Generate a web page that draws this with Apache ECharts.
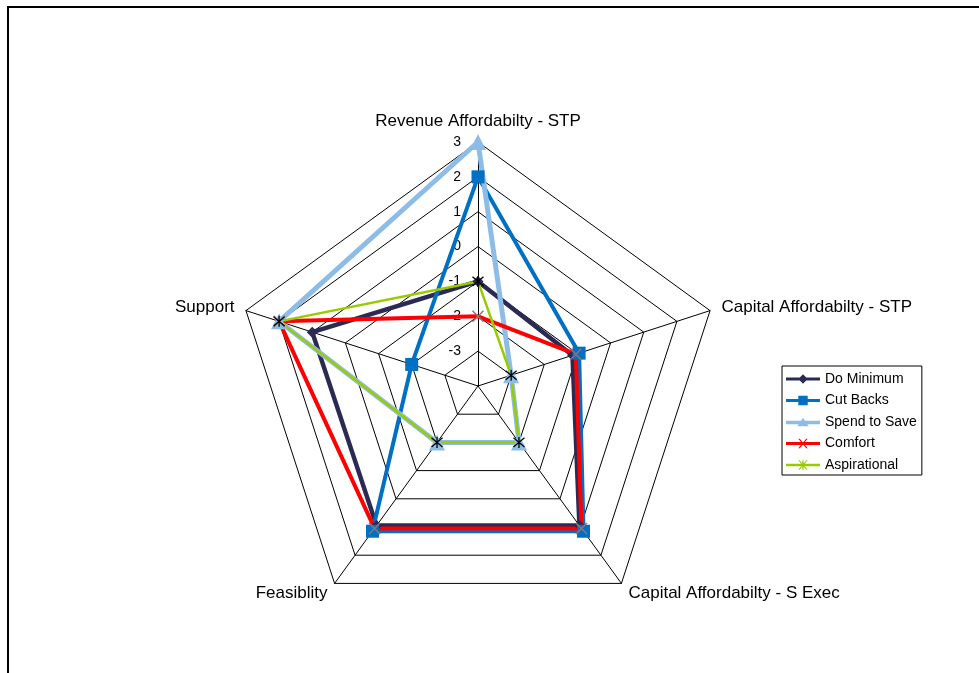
<!DOCTYPE html>
<html>
<head>
<meta charset="utf-8">
<script src="https://cdn.jsdelivr.net/npm/echarts@6/dist/echarts.min.js"></script>
<style>
  html, body { margin: 0; padding: 0; background: #fff; overflow: hidden; }
  #frame { position: absolute; left: 7px; top: 6px; width: 1000px; height: 700px; border: 2px solid #000; }
  #container { position: absolute; left: 0; top: 0; width: 979px; height: 673px; }
</style>
</head>
<body>
<div id="frame"></div>
<div id="container"></div>
<script type="text/javascript">
// axes in echarts order (top, then counter-clockwise)
var axisNames = ['Revenue Affordabilty - STP', 'Support', 'Feasiblity', 'Capital Affordabilty - S Exec', 'Capital Affordabilty - STP'];
var seriesNames = ['Do Minimum', 'Cut Backs', 'Spend to Save', 'Comfort', 'Aspirational'];
var doMinimum   = [-1, 1, 0.95, 0.95, -1.15];
var cutBacks    = [2, -2, 1.15, 1.15, -0.95];
var spendToSave = [3, 2, -2, -2, -3];
var comfort     = [-2, 2, 1.05, 1.05, -1.05];
var aspirational = [-1, 2, -2, -2, -3];
var axisMin = -4, axisMax = 3;

var values = [doMinimum, cutBacks, spendToSave, comfort, aspirational];
var colors = ['#2b2a55', '#0070c4', '#8dbde6', '#ff0000', '#99cc00'];
var widths = [4.5, 4, 5, 4, 2.5];
var symbols = ['diamond', 'rect', 'triangle', 'path://M0,0L10,10M10,0L0,10', 'path://M0,0L10,10M10,0L0,10M5,-1L5,11'];
var symbolSizes = [11, 13, 16, 11, 11];
var symbolBorders = [
    {},
    {},
    {},
    {borderColor: '#9a6f6f', borderWidth: 1.5},
    {borderColor: '#000000', borderWidth: 1.3}
];
var legendIcons = [
    'path://M0,3.3H36V6.7H0Z M18,0L23,5L18,10L13,5Z',
    'path://M0,3.3H36V6.7H0Z M13,0H23V10H13Z',
    'path://M0,3.2H36V6.8H0Z M18,0L24,9H12Z',
    'path://M0,3.3H36V6.7H0Z M13,0L14.6,0L23,10L21.4,10Z M21.4,0L23,0L14.6,10L13,10Z',
    'path://M0,3.8H36V6.2H0Z M13,0L14.4,0L23,10L21.6,10Z M21.6,0L23,0L14.4,10L13,10Z M17.3,0H18.7V10H17.3Z'
];

var dom = document.getElementById('container');
var myChart = echarts.init(dom);

var indicators = [];
for (var i = 0; i < axisNames.length; i++) {
    var ind = {name: axisNames[i], min: axisMin, max: axisMax};
    if (i === 0) {
        ind.axisLabel = {
            show: true,
            color: '#000',
            fontSize: 14,
            align: 'right',
            padding: [0, 9, 0, 0],
            formatter: function (v) { return v === axisMin ? '' : v; }
        };
    }
    indicators.push(ind);
}

var seriesData = [];
var legendData = [];
for (var s = 0; s < seriesNames.length; s++) {
    var itemStyle = {color: colors[s]};
    for (var k in symbolBorders[s]) itemStyle[k] = symbolBorders[s][k];
    seriesData.push({
        type: 'radar',
        name: seriesNames[s],
        symbol: symbols[s],
        symbolSize: symbolSizes[s],
        itemStyle: itemStyle,
        lineStyle: {color: colors[s], width: widths[s]},
        emphasis: {disabled: true},
        data: [{value: values[s], name: seriesNames[s]}]
    });
    legendData.push({name: seriesNames[s], icon: legendIcons[s]});
}

var option = {
    animation: false,
    textStyle: {fontFamily: 'Arial, "Liberation Sans", sans-serif'},
    legend: {
        data: legendData,
        orient: 'vertical',
        left: 782,
        top: 366,
        padding: [6, 5, 3, 4],
        itemWidth: 34,
        itemHeight: 10,
        itemGap: 7.5,
        borderColor: '#000',
        borderWidth: 1,
        itemStyle: {borderWidth: 0},
        textStyle: {color: '#000', fontSize: 14, fontFamily: 'Arial, "Liberation Sans", sans-serif'},
        selectedMode: false
    },
    radar: {
        center: [478, 386],
        radius: 244,
        startAngle: 90,
        splitNumber: 7,
        shape: 'polygon',
        nameGap: 12,
        indicator: indicators,
        axisName: {color: '#000', fontSize: 17, fontFamily: 'Arial, "Liberation Sans", sans-serif'},
        axisLine: {show: true, lineStyle: {color: '#000', width: 1}},
        splitLine: {show: true, lineStyle: {color: '#000', width: 1}},
        splitArea: {show: false},
        axisTick: {show: false},
        axisLabel: {show: false}
    },
    series: seriesData
};

if (option && typeof option === 'object') {
    myChart.setOption(option, true);
}
</script>
</body>
</html>
